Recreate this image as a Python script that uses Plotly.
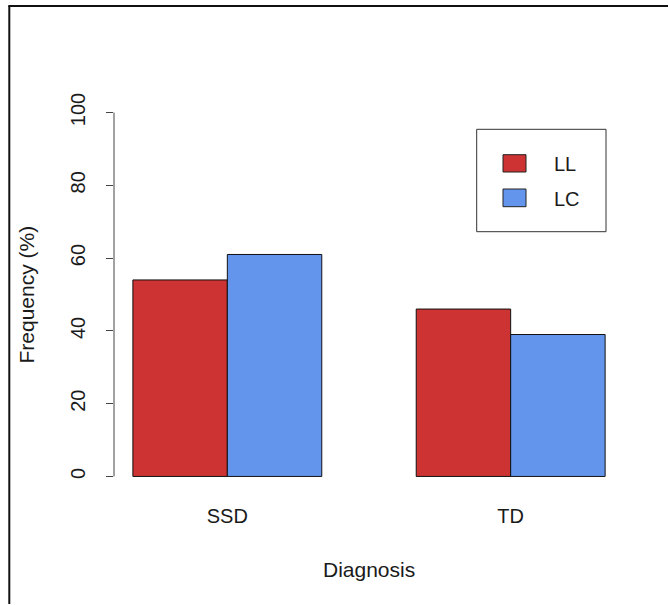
import plotly.graph_objects as go

# ---- data ----
categories = ["SSD", "TD"]
ll_values = [54, 46]
lc_values = [61, 39]
series_names = ["LL", "LC"]
y_tick_values = [0, 20, 40, 60, 80, 100]
y_title = "Frequency (%)"
x_title = "Diagnosis"

# ---- styles ----
colors = ["#CD3333", "#6495ED"]
FONT = "Liberation Sans, Arial, Helvetica, sans-serif"
FS = 20
FS_T = 21
TXT = "#1a1a1a"

W, H = 669, 605
ML, MR, MT, MB = 114, 45, 98, 114
PW, PH = W - ML - MR, H - MT - MB


def px_x(x):
    return (x - ML) / PW


def px_y(y):
    return (H - MB - y) / PH


fig = go.Figure()
for name, vals, col in zip(series_names, [ll_values, lc_values], colors):
    fig.add_trace(go.Bar(
        x=categories, y=vals, name=name,
        marker=dict(color=col, line=dict(color="#111111", width=1)),
        showlegend=False,
    ))

shapes = []
# y axis line from first to last tick (R style)
shapes.append(dict(type="line", xref="paper", yref="y", x0=0, x1=0,
                   y0=min(y_tick_values), y1=max(y_tick_values),
                   line=dict(color="#444444", width=1)))
# outer frame (left and top edges visible in the reference)
shapes.append(dict(type="line", xref="paper", yref="paper",
                   x0=px_x(9.3), x1=px_x(9.3), y0=px_y(6), y1=px_y(604),
                   line=dict(color="#111111", width=2)))
shapes.append(dict(type="line", xref="paper", yref="paper",
                   x0=px_x(8.3), x1=px_x(668), y0=px_y(6), y1=px_y(6),
                   line=dict(color="#111111", width=2)))
# legend box
shapes.append(dict(type="rect", xref="paper", yref="paper",
                   x0=px_x(476.7), x1=px_x(606), y0=px_y(231.7), y1=px_y(129.3),
                   line=dict(color="#333333", width=1), fillcolor="rgba(0,0,0,0)"))

annotations = []
legend_rows = [(154.7, 172.0, 163.5), (189.0, 206.7, 198.5)]
for name, col, (t, b, c) in zip(series_names, colors, legend_rows):
    shapes.append(dict(type="rect", xref="paper", yref="paper",
                       x0=px_x(503), x1=px_x(526), y0=px_y(b), y1=px_y(t),
                       line=dict(color="#222222", width=1), fillcolor=col))
    annotations.append(dict(text=name, xref="paper", yref="paper",
                            x=px_x(552), y=px_y(c), xanchor="left", yanchor="middle",
                            showarrow=False, font=dict(family=FONT, size=FS, color=TXT)))

annotations.append(dict(text=y_title, xref="paper", yref="paper",
                        x=px_x(26), y=0.5, xanchor="center", yanchor="middle",
                        textangle=-90, showarrow=False,
                        font=dict(family=FONT, size=FS_T, color=TXT)))
annotations.append(dict(text=x_title, xref="paper", yref="paper",
                        x=0.5, y=px_y(569), xanchor="center", yanchor="middle",
                        showarrow=False,
                        font=dict(family=FONT, size=FS_T, color=TXT)))

fig.update_layout(
    width=W, height=H,
    margin=dict(l=ML, r=MR, t=MT, b=MB, pad=0),
    paper_bgcolor="white", plot_bgcolor="white",
    barmode="group", bargap=1/3, bargroupgap=0,
    font=dict(family=FONT, size=FS, color=TXT),
    shapes=shapes, annotations=annotations,
    showlegend=False,
)
fig.update_xaxes(
    range=[-0.4, 1.4], showline=False, showgrid=False, zeroline=False,
    ticks="", ticklabelstandoff=11,
    tickfont=dict(family=FONT, size=FS, color=TXT),
)
fig.update_yaxes(
    range=[-4, 104], showline=False, showgrid=False, zeroline=False,
    tickmode="array", tickvals=y_tick_values,
    ticktext=[str(v) for v in y_tick_values],
    ticks="outside", ticklen=7, tickwidth=1, tickcolor="#444444",
    tickangle=-90, ticklabelstandoff=13,
    tickfont=dict(family=FONT, size=FS, color=TXT),
)

fig.write_html(
    "out.html",
    config={"displayModeBar": False},
    post_script="document.body.style.margin='0';document.body.style.overflow='hidden';",
)
